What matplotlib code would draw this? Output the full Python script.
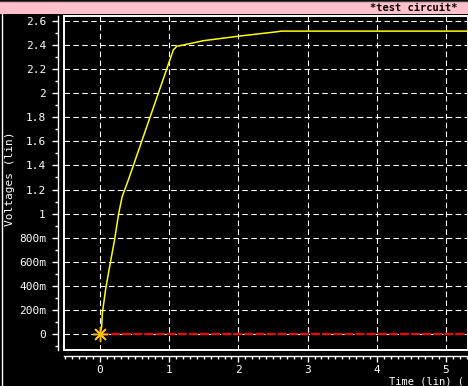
import matplotlib
matplotlib.use("Agg")
import matplotlib.pyplot as plt
from matplotlib.ticker import FixedLocator, FixedFormatter, MultipleLocator
from matplotlib.patches import Rectangle
from matplotlib.lines import Line2D

# yellow trace
time = [0, 0.024, 0.034, 0.08, 0.13, 0.21, 0.27, 0.32, 0.41, 1.06, 1.11, 1.2, 1.49, 2.02, 2.55, 2.62, 6.0]
volt = [0, 0.06, 0.17, 0.365, 0.53, 0.78, 1.0, 1.14, 1.28, 2.36, 2.39, 2.40, 2.436, 2.475, 2.51, 2.516, 2.516]
# red trace (flat at zero)
red_time = [0, 6.0]
red_volt = [0, 0]

yticks = [0, 0.2, 0.4, 0.6, 0.8, 1.0, 1.2, 1.4, 1.6, 1.8, 2.0, 2.2, 2.4, 2.6]
ylabels = ['0', '200m', '400m', '600m', '800m', '1', '1.2', '1.4', '1.6', '1.8', '2', '2.2', '2.4', '2.6']
xticks = [0, 1, 2, 3, 4, 5]
xlabels = ['0', '1', '2', '3', '4', '5']

plt.rcParams['font.family'] = ['DejaVu Sans Mono']
W, H = 468, 386
fig = plt.figure(figsize=(W / 100, H / 100), dpi=100, facecolor='black')

# pink title banner
fig.patches.append(Rectangle((0, 1 - 14 / H), 1, 13 / H, transform=fig.transFigure,
                             facecolor='#ffc0cb', edgecolor='none'))
fig.lines.append(Line2D([0, 1], [1 - 0.5 / H, 1 - 0.5 / H], transform=fig.transFigure,
                        color='#404040', lw=1))
fig.lines.append(Line2D([1.5 / W, 1.5 / W], [0, 1 - 14 / H], transform=fig.transFigure,
                        color='white', lw=1))
fig.text(458 / W, 1 - 8 / H, '*test circuit*', color='black', fontsize=7.5,
         fontweight='bold', ha='right', va='center')

ax = fig.add_axes([64 / W, 36 / H, (W - 64) / W, (350 - 16) / H])
ax.set_facecolor('black')
ax.set_xlim(-0.52, 5.318)
ax.set_ylim(-0.133, 2.6415)

# frame
ax.add_patch(Rectangle((0, 0), 1, 1, transform=ax.transAxes, fill=False,
                       edgecolor='white', lw=1.4, clip_on=False, zorder=5))

for s in ['top', 'right']:
    ax.spines[s].set_visible(False)
for s in ['left', 'bottom']:
    ax.spines[s].set_color('white')
    ax.spines[s].set_linewidth(1)
ax.spines['left'].set_position(('outward', 4))
ax.spines['bottom'].set_position(('outward', 4))

ax.yaxis.set_major_locator(FixedLocator(yticks))
ax.yaxis.set_major_formatter(FixedFormatter(ylabels))
ax.yaxis.set_minor_locator(MultipleLocator(0.1))
ax.xaxis.set_major_locator(FixedLocator(xticks))
ax.xaxis.set_major_formatter(FixedFormatter(xlabels))
ax.xaxis.set_minor_locator(MultipleLocator(0.1))
ax.tick_params(which='both', colors='white', direction='out', width=1)
ax.tick_params(which='major', length=4, labelsize=8)
ax.tick_params(axis='y', which='major', pad=5)
ax.tick_params(axis='x', which='major', pad=3)
ax.tick_params(which='minor', length=2)

ax.grid(True, which='major', color='white', linestyle=(0, (5, 3)), linewidth=0.8, zorder=1)
ax.set_axisbelow(True)

ax.plot(red_time, red_volt, color='#ff0000', lw=1.6, linestyle=(0, (4, 1)), zorder=3)
ax.plot(time, volt, color='#ffff00', lw=1.1, zorder=4)
ax.plot(time[0], volt[0], marker=(8, 2, 0), markersize=11, color='#ffc000',
        markeredgewidth=1, zorder=6, clip_on=False)

fig.text(10 / W, 1 - 179 / H, 'Voltages (lin)', color='white', fontsize=8,
         rotation=90, ha='center', va='center')
fig.text(389 / W, 1 - 381.5 / H, 'Time (lin) (', color='white', fontsize=7.5,
         ha='left', va='center')

fig.savefig('out.png', dpi=100, facecolor='black')
